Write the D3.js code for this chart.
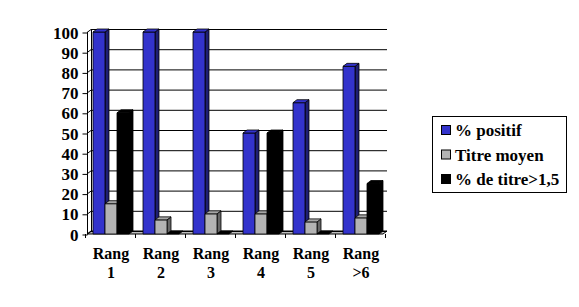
<!DOCTYPE html>
<html lang="fr">
<head>
<meta charset="UTF-8">
<title>Rang</title>
<script src="https://cdn.jsdelivr.net/npm/d3@7"></script>
<style>
  body { margin: 0; background: #fff; }
</style>
</head>
<body>
<script>
// data
const categories = ["Rang 1", "Rang 2", "Rang 3", "Rang 4", "Rang 5", "Rang >6"];
const seriesNames = ["% positif", "Titre moyen", "% de titre>1,5"];
const positif = [100, 100, 100, 50, 65, 83];
const titreMoyen = [15, 7, 10, 10, 6, 8];
const titreSup = [60, 0, 0, 50, 0, 25];
const yTicks = [0, 10, 20, 30, 40, 50, 60, 70, 80, 90, 100];

const seriesValues = [positif, titreMoyen, titreSup];
const colors = [
  {front: "#3333cc", top: "#3333cc", side: "#1f1f73"},
  {front: "#b3b3b3", top: "#a6a6a6", side: "#666666"},
  {front: "#000000", top: "#000000", side: "#000000"}
];

const FONT = "'Liberation Serif', 'DejaVu Serif', 'Times New Roman', serif";
const W = 579, H = 307;
const dx = 4, dy = -3;   // depth offset

const svg = d3.select("body").append("svg")
  .attr("width", W).attr("height", H)
  .attr("font-family", FONT).attr("font-weight", "bold").attr("font-size", 16);

const x = d3.scaleBand().domain(categories).range([87, 387]);
const xs = d3.scaleBand().domain(seriesNames).range([6, 42]);
const y = d3.scaleLinear().domain([0, 100]).range([234, 32]);

const x0 = x.range()[0], x1 = x.range()[1];

// floor
svg.append("polygon")
  .attr("points", [[x0, y(0)], [x1 - dx, y(0)], [x1, y(0) + dy], [x0 + dx, y(0) + dy]].join(" "))
  .attr("fill", "#c0c0c0").attr("stroke", "#000").attr("stroke-width", 1);

// left wall lines
const wall = svg.append("g").attr("stroke", "#000").attr("fill", "none").attr("shape-rendering", "crispEdges");
wall.append("line").attr("x1", x0 + 0.5).attr("x2", x0 + 0.5).attr("y1", y(0)).attr("y2", y(100));
wall.append("line").attr("x1", x0 + dx + 0.5).attr("x2", x0 + dx + 0.5).attr("y1", y(0) + dy).attr("y2", y(100) + dy);

// gridlines (left wall diagonal + back wall)
const grid = svg.append("g").attr("stroke", "#000").attr("fill", "none");
grid.selectAll("path").data(yTicks).join("path")
  .attr("d", d => `M${x0},${y(d) + 0.5}L${x0 + dx},${y(d) + dy + 0.5}L${x1},${y(d) + dy + 0.5}`);

// y axis ticks and labels
const yAxis = svg.append("g")
  .attr("transform", `translate(${x0 + 0.5},0.5)`)
  .call(d3.axisLeft(y).tickValues(yTicks).tickSize(5).tickPadding(4))
  .attr("font-family", FONT).attr("font-size", 17);
yAxis.select(".domain").remove();
yAxis.selectAll("line").attr("stroke", "#000");
yAxis.selectAll("text").attr("fill", "#000").attr("dy", "0.33em");

// category ticks
svg.append("g").attr("stroke", "#000").attr("shape-rendering", "crispEdges")
  .selectAll("line").data(d3.range(categories.length + 1)).join("line")
  .attr("x1", i => x0 + i * x.bandwidth() - 1.5).attr("x2", i => x0 + i * x.bandwidth() - 1.5)
  .attr("y1", y(0)).attr("y2", y(0) + 4);

// bars
const bars = [];
categories.forEach((c, ci) => {
  seriesNames.forEach((s, si) => {
    bars.push({c, s, si, v: seriesValues[si][ci]});
  });
});

const bg = svg.append("g").attr("stroke", "#000").attr("stroke-width", 0.8).attr("stroke-linejoin", "round");
bars.forEach(b => {
  const bx0 = x(b.c) + xs(b.s), bx1 = bx0 + xs.bandwidth();
  const yt = y(b.v), yb = y(0);
  const col = colors[b.si];
  const g = bg.append("g");
  if (b.v > 0) {
    g.append("polygon")
      .attr("points", [[bx1, yt], [bx1 + dx, yt + dy], [bx1 + dx, yb + dy], [bx1, yb]].join(" "))
      .attr("fill", col.side);
    g.append("rect")
      .attr("x", bx0).attr("y", yt).attr("width", bx1 - bx0).attr("height", yb - yt)
      .attr("fill", col.front);
  }
  g.append("polygon")
    .attr("points", [[bx0, yt], [bx0 + dx, yt + dy], [bx1 + dx, yt + dy], [bx1, yt]].join(" "))
    .attr("fill", col.top);
});

// category labels
const lab = svg.append("g").attr("text-anchor", "middle");
categories.forEach(c => {
  const i = c.indexOf(" ");
  const cx = x(c) + x.bandwidth() / 2 - 1;
  lab.append("text").attr("x", cx).attr("y", 259).text(c.slice(0, i));
  lab.append("text").attr("x", cx).attr("y", 278).text(c.slice(i + 1));
});

// legend
const leg = svg.append("g").attr("font-size", 17);
leg.append("rect").attr("x", 432.5).attr("y", 116.5).attr("width", 134).attr("height", 76)
  .attr("fill", "#fff").attr("stroke", "#000");
seriesNames.forEach((s, i) => {
  const cy = 130 + i * 24.5;
  leg.append("rect").attr("x", 441.5).attr("y", cy - 4.5).attr("width", 9).attr("height", 9)
    .attr("fill", colors[i].front).attr("stroke", "#000");
  leg.append("text").attr("x", 455).attr("y", cy + 6).text(s);
});
</script>
</body>
</html>
